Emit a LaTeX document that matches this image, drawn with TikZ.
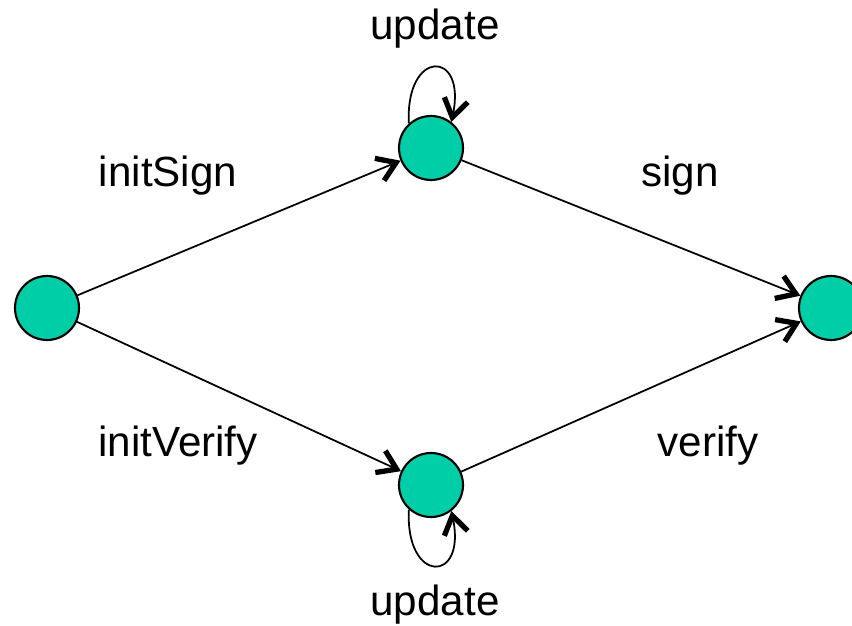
\documentclass[tikz,border=0pt]{standalone}
\usepackage{fontspec}
\setmainfont{Liberation Sans}
\usetikzlibrary{arrows.meta}
\definecolor{statefill}{RGB}{0,206,166}
\tikzset{
  state/.style={circle, draw, line width=1.2pt, fill=statefill, minimum size=1.28cm, inner sep=0pt},
  arr/.style={line width=1pt, -{Straight Barb[length=3.6mm, width=4.8mm, line width=3pt]}},
  lbl/.style={font=\fontsize{24}{28}\selectfont, inner sep=0pt}
}
\begin{document}
\begin{tikzpicture}
      \useasboundingbox (0,0) rectangle (17.04,12.5);
      % states
      \node[state] (start) at (0.94, 6.34) {};
      \node[state] (signing) at (8.62, 9.54) {};
      \node[state] (verifying) at (8.62, 2.80) {};
      \node[state] (done) at (16.62, 6.34) {};
      % transitions
      \draw[arr] (start) -- (signing);
      \draw[arr] (start) -- (verifying);
      \draw[arr] (signing) -- (done);
      \draw[arr] (verifying) -- (done);
      \draw[arr] (signing.132) to[out=93, in=78, looseness=4.5] (signing.52);
      \draw[arr] (verifying.228) to[out=267, in=282, looseness=4.5] (verifying.308);
      % labels
      \node[lbl] (updTop) at (8.70, 11.92) {update};
      \node[lbl] (initSign) at (3.36, 8.98) {initSign};
      \node[lbl] (sign) at (13.6, 8.98) {sign};
      \node[lbl] (initVerify) at (3.56, 3.58) {initVerify};
      \node[lbl] (verify) at (14.16, 3.58) {verify};
      \node[lbl] (updBot) at (8.70, 0.40) {update};
\end{tikzpicture}
\end{document}
